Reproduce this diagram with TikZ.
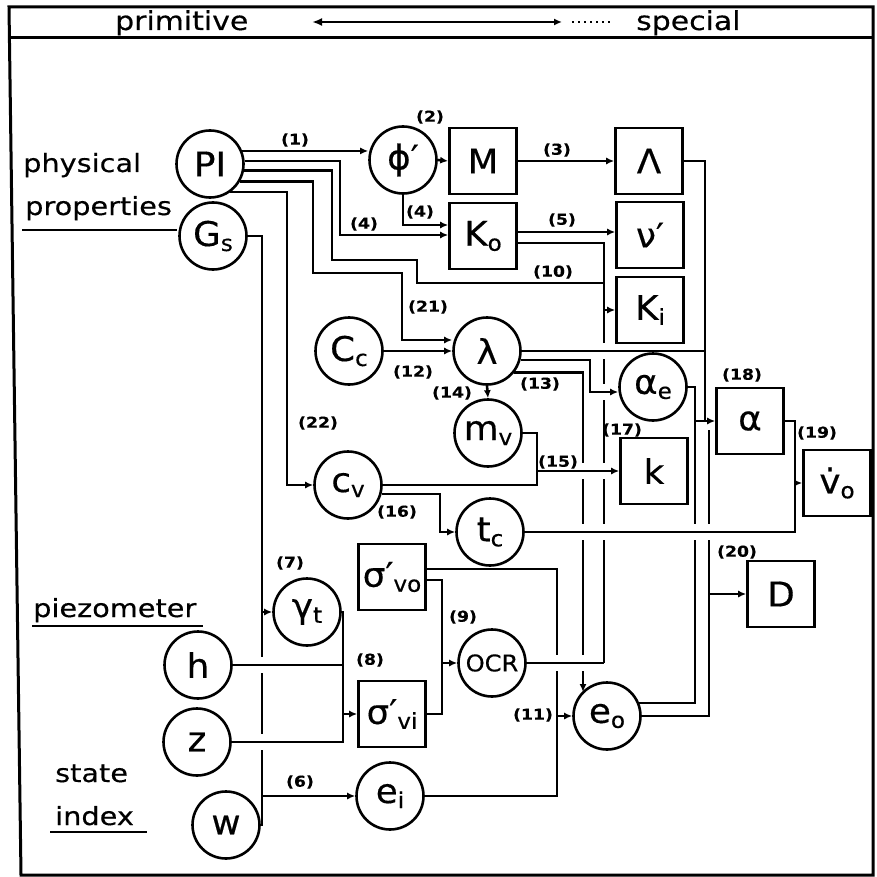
\documentclass[tikz,border=0pt]{standalone}
\usepackage{fontspec}
\usetikzlibrary{arrows.meta,calc}
\newfontfamily\isofont[FakeStretch=1.15,FakeBold=0.4]{DejaVu Sans}
\newfontfamily\nodefont[FakeStretch=1.05,FakeBold=0.4]{DejaVu Sans}
\newcommand{\lsub}[1]{\raisebox{-5pt}{\fontsize{22}{22}\selectfont #1}}
\begin{document}
\begin{tikzpicture}[x=1pt,y=-1pt,
  every node/.style={inner sep=0pt},
  circ/.style={circle,draw,line width=2.6pt,minimum size=67pt,font={\nodefont\fontsize{34}{34}\selectfont}},
  box/.style={rectangle,draw,line width=2.6pt,minimum width=67pt,minimum height=66pt,font={\nodefont\fontsize{34}{34}\selectfont}},
  wire/.style={line width=2.6pt},
  arr/.style={wire,-{Latex[length=8pt,width=7pt]}},
  lbl/.style={font={\isofont\bfseries\fontsize{15}{15}\selectfont}},
  side/.style={font={\isofont\fontsize{25}{25}\selectfont},anchor=base west},
  frame/.style={line width=3pt},
]
\useasboundingbox (0,0) rectangle (877,877);
% frame and header
\draw[frame] (9,7) -- (873,7) -- (873,875) -- (21,875) -- cycle;
\draw[frame] (9.4,38) -- (873,38);
\node[font={\isofont\fontsize{26}{26}\selectfont},anchor=base west] (hp) at (115,30) {primitive};
\node[font={\isofont\fontsize{26}{26}\selectfont},anchor=base west] (hs) at (636,30) {special};
\coordinate (aL) at (312,22);
\coordinate (aR) at (562,22);
\coordinate (dR) at (610,22);
\draw[wire,{Latex[length=10pt,width=8pt]}-{Latex[length=8pt,width=7pt]}] (aL) -- (aR);
\draw[line width=2pt,dash pattern=on 2pt off 4pt] (aR) ++(10,0) -- (dR);

% side texts
\node[side] (tphys) at (23,172) {physical};
\node[side] (tprop) at (25,215) {properties};
\draw[wire] (22,230) -- (177,230);
\node[side] (tpiezo) at (33,617) {piezometer};
\draw[wire] (32,626) -- (203,626);
\node[side] (tstate) at (55,782) {state};
\node[side] (tindex) at (55,825) {index};
\draw[wire] (50,832) -- (147,832);

% circle nodes
\node[circ] (PI) at (210,164) {PI};
\node[circ] (Gs) at (213,236) {G\lsub{s}};
\node[circ] (phi) at (403,160) {ϕ′};
\node[circ] (Cc) at (349,351) {C\lsub{c}};
\node[circ] (lam) at (487,351) {λ};
\node[circ] (mv) at (488,433) {m\lsub{v}};
\node[circ] (cv) at (348,485) {c\lsub{v}};
\node[circ] (tc) at (490,532) {t\lsub{c}};
\node[circ] (ae) at (653,387) {α\lsub{e}};
\node[circ] (gt) at (307,612) {γ\lsub{t}};
\node[circ] (h) at (198,665) {h};
\node[circ] (z) at (197,742) {z};
\node[circ] (w) at (226,825) {w};
\node[circ] (ei) at (390,796) {e\lsub{i}};
\node[circ,font={\nodefont\fontsize{23}{23}\selectfont}] (OCR) at (492,663) {OCR};
\node[circ] (eo) at (607,716) {e\lsub{o}};

% box nodes
\node[box] (M) at (483,161) {M};
\node[box] (Lb) at (649,161) {Λ};
\node[box] (Ko) at (483,236) {K\lsub{o}};
\node[box] (nu) at (650,235) {ν′};
\node[box] (Ki) at (650,310) {K\lsub{i}};
\node[box] (k) at (654,471) {k};
\node[box] (al) at (750,421) {α};
\node[box] (vo) at (837,483) {v̇\lsub{o}};
\node[box] (D) at (781,594) {D};
\node[box] (svo) at (392,577) {σ′\lsub{vo}};
\node[box] (svi) at (392,714) {σ′\lsub{vi}};

% ---- wires that are crossed (drawn first) ----
\draw[arr] (PI.22) -- (PI.22 -| phi.west);
\draw[arr] (PI.5) -| (340,235) -- (Ko.west |- 340,235);
\draw[wire] (PI.-11) -| (332,260) -| (417,283) -- (604,283);
\draw[arr] (PI.-30) -| (313,273) -| (402,340) -- (lam.west |- 0,340);
\draw[arr] (PI.-54) -| (287,485) -- (cv.west);
\draw[arr] (phi.east) -- (M.west);
\draw[arr] (phi.south) |- ($(Ko.west)+(0,-11)$);
\draw[arr] (M.east) -- (Lb.west);
\draw[arr] (Ko.east |- 0,232) -- (nu.west |- 0,232);
\draw[wire] (Ko.east |- 0,243) -| (604,663);
\draw[arr] (Ki.west -| 604,0) -- (Ki.west);
\draw[wire] (Lb.east) -| (705,421);
\draw[wire] (ae.east) -- (695,387) |- (eo.22);
\draw[arr] (695,421) -- (al.west);
\draw[wire] (eo.east) -| (709,430);
\draw[arr] (709,594) -- (D.west);
\draw[arr] (lam.-38) -| ($(eo.center)+(-24,-24)$);
\draw[wire] (mv.east) -| (537,485) -- (cv.east);
\draw[arr] (lam.south) -- (mv.north);
\draw[arr] (Cc.east) -- (lam.west);
\draw[arr] (cv.-15) -| (440,532) -- (tc.west);
\draw[wire] (svo.east |- 0,569) -| (557,796) -- (ei.east);
\draw[arr] (557,716) -- (eo.west);
\draw[wire] (svo.east |- 0,580) -| (442,714) -- (svi.east);
\draw[arr] (442,663) -- (OCR.west);
\draw[arr] (Gs.east) -| (262,612) -- (gt.west);
\draw[wire] (w.east) -| (262,612);
\draw[arr] (262,796) -- (ei.west);

% ---- gaps where lines cross ----
\foreach \x/\y in {604/351,604/392,604/471,604/532,583/471,583/532,583/663,557/663,695/532,709/532,262/665,262/742}
  \fill[white] (\x-3.5,\y-8) rectangle (\x+3.5,\y+8);

% ---- crossing wires ----
\draw[wire] (gt.east) -| (343,742) -- (z.east);
\draw[wire] (h.east) -- (343,665);
\draw[arr] (343,714) -- (svi.west);
\draw[wire] (lam.east) -- (705,351);
\draw[arr] (lam.-15) -| (590,392) -- (ae.west |- 0,392);
\draw[arr] (537,471) -- (k.west);
\draw[wire] (OCR.east) -- (604,663);
\draw[wire] (tc.east) -| (795,421) -- (al.east);
\draw[arr] (795,483) -- (vo.west);

% ---- labels ----
\node[lbl] (n1) at (295,140) {(1)};
\node[lbl] (n2) at (430,117) {(2)};
\node[lbl] (n3) at (557,150) {(3)};
\node[lbl] (n4a) at (420,212) {(4)};
\node[lbl] (n4b) at (364,224) {(4)};
\node[lbl] (n5) at (562,220) {(5)};
\node[lbl] (n10) at (553,272) {(10)};
\node[lbl] (n21) at (428,307) {(21)};
\node[lbl] (n12) at (413,372) {(12)};
\node[lbl] (n14) at (452,393) {(14)};
\node[lbl] (n13) at (540,384) {(13)};
\node[lbl] (n22) at (318,423) {(22)};
\node[lbl] (n15) at (558,462) {(15)};
\node[lbl] (n17) at (622,430) {(17)};
\node[lbl] (n16) at (397,512) {(16)};
\node[lbl] (n18) at (742,375) {(18)};
\node[lbl] (n19) at (817,433) {(19)};
\node[lbl] (n20) at (737,552) {(20)};
\node[lbl] (n7) at (290,563) {(7)};
\node[lbl] (n8) at (370,660) {(8)};
\node[lbl] (n9) at (463,617) {(9)};
\node[lbl] (n11) at (533,715) {(11)};
\node[lbl] (n6) at (300,782) {(6)};
\end{tikzpicture}
\end{document}
